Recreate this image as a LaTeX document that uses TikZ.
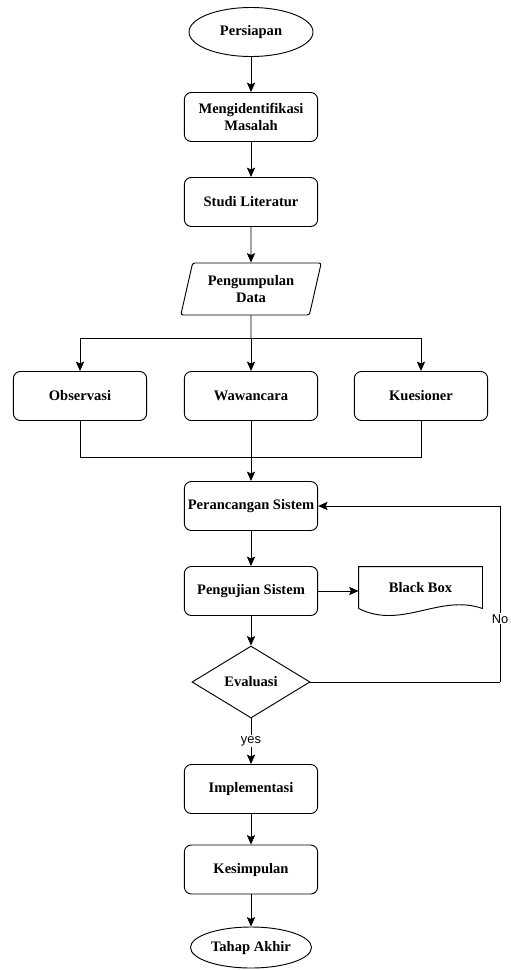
\documentclass[tikz,border=0pt]{standalone}
\usepackage{fontspec}
\setmainfont{Liberation Serif}
\newfontfamily\labelfont{Liberation Sans}
\usetikzlibrary{arrows.meta,positioning,shapes.geometric,calc}

\begin{document}
\begin{tikzpicture}[line width=0.8pt,
  every node/.style={font=\fontsize{12.4}{15}\selectfont\bfseries},
  proc/.style={draw, rounded corners=6pt, minimum width=4cm, minimum height=1.47cm, align=center, inner sep=1pt},
  term/.style={draw, ellipse, minimum width=3.72cm, minimum height=1.47cm, inner sep=0pt},
  io/.style={draw, trapezium, trapezium left angle=75, trapezium right angle=105, trapezium stretches=true, minimum width=4.23cm, minimum height=1.56cm, align=center, rounded corners=2pt},
  dec/.style={draw, diamond, minimum width=3.54cm, minimum height=2.16cm, inner sep=0pt},
  arr/.style={-{Stealth[length=8pt,width=7pt,inset=1.5pt]}},
  lbl/.style={font=\labelfont\fontsize{11}{13}\selectfont, fill=white, inner sep=1pt}]
\useasboundingbox (0,0) rectangle (15.33,-29.1);

% alur utama
\node[term] (persiapan) at (7.53,-0.96) {Persiapan};
\node[proc] (identifikasi) at (7.53,-3.51) {Mengidentifikasi\\Masalah};
\node[proc] (studi) at (7.53,-6.06) {Studi Literatur};
\node[io] (kumpul) at (7.53,-8.67) {Pengumpulan\\Data};

% metode pengumpulan data
\node[proc] (observasi) at (2.4,-11.88) {Observasi};
\node[proc] (wawancara) at (7.53,-11.88) {Wawancara};
\node[proc] (kuesioner) at (12.63,-11.88) {Kuesioner};
\coordinate (split) at (7.53,-10.14);
\coordinate (merge) at (7.53,-13.71);

\node[proc] (rancang) at (7.53,-15.18) {Perancangan Sistem};
\node[proc] (uji) at (7.53,-17.73) {Pengujian Sistem};
\node[minimum width=3.69cm, minimum height=1.23cm, inner sep=0pt] (blackbox) at (12.615,-17.625) {Black Box};
\node[dec] (evaluasi) at (7.53,-20.46) {Evaluasi};
\coordinate (balik) at (15.0,-20.46);

\node[proc] (implementasi) at (7.53,-23.67) {Implementasi};
\node[proc] (kesimpulan) at (7.53,-26.085) {Kesimpulan};
\node[term, minimum width=3.63cm, minimum height=1.23cm] (akhir) at (7.53,-28.425) {Tahap Akhir};

% dokumen black box
\draw (blackbox.south west) -- (blackbox.north west) -- (blackbox.north east) -- (blackbox.south east)
  .. controls +(-1.3,0.45) and +(1.3,-0.65) .. (blackbox.south west);

% panah
\draw[arr] (persiapan) -- (identifikasi);
\draw[arr] (identifikasi) -- (studi);
\draw[arr] (studi) -- (kumpul);
\draw (kumpul) -- (split);
\draw[arr] (split) -| (observasi);
\draw[arr] (split) -- (wawancara);
\draw[arr] (split) -| (kuesioner);
\draw (observasi) |- (merge);
\draw (kuesioner) |- (merge);
\draw (wawancara) -- (merge);
\draw[arr] (merge) -- (rancang);
\draw[arr] (rancang) -- (uji);
\draw[arr] (uji) -- (blackbox.west |- uji);
\draw[arr] (uji) -- (evaluasi);
\draw (evaluasi.east) -- (balik);
\draw[arr] (balik) |- node[lbl, pos=0.18] {No} (rancang.east);
\draw[arr] (evaluasi) -- node[lbl] {yes} (implementasi);
\draw[arr] (implementasi) -- (kesimpulan);
\draw[arr] (kesimpulan) -- (akhir);
\end{tikzpicture}
\end{document}
